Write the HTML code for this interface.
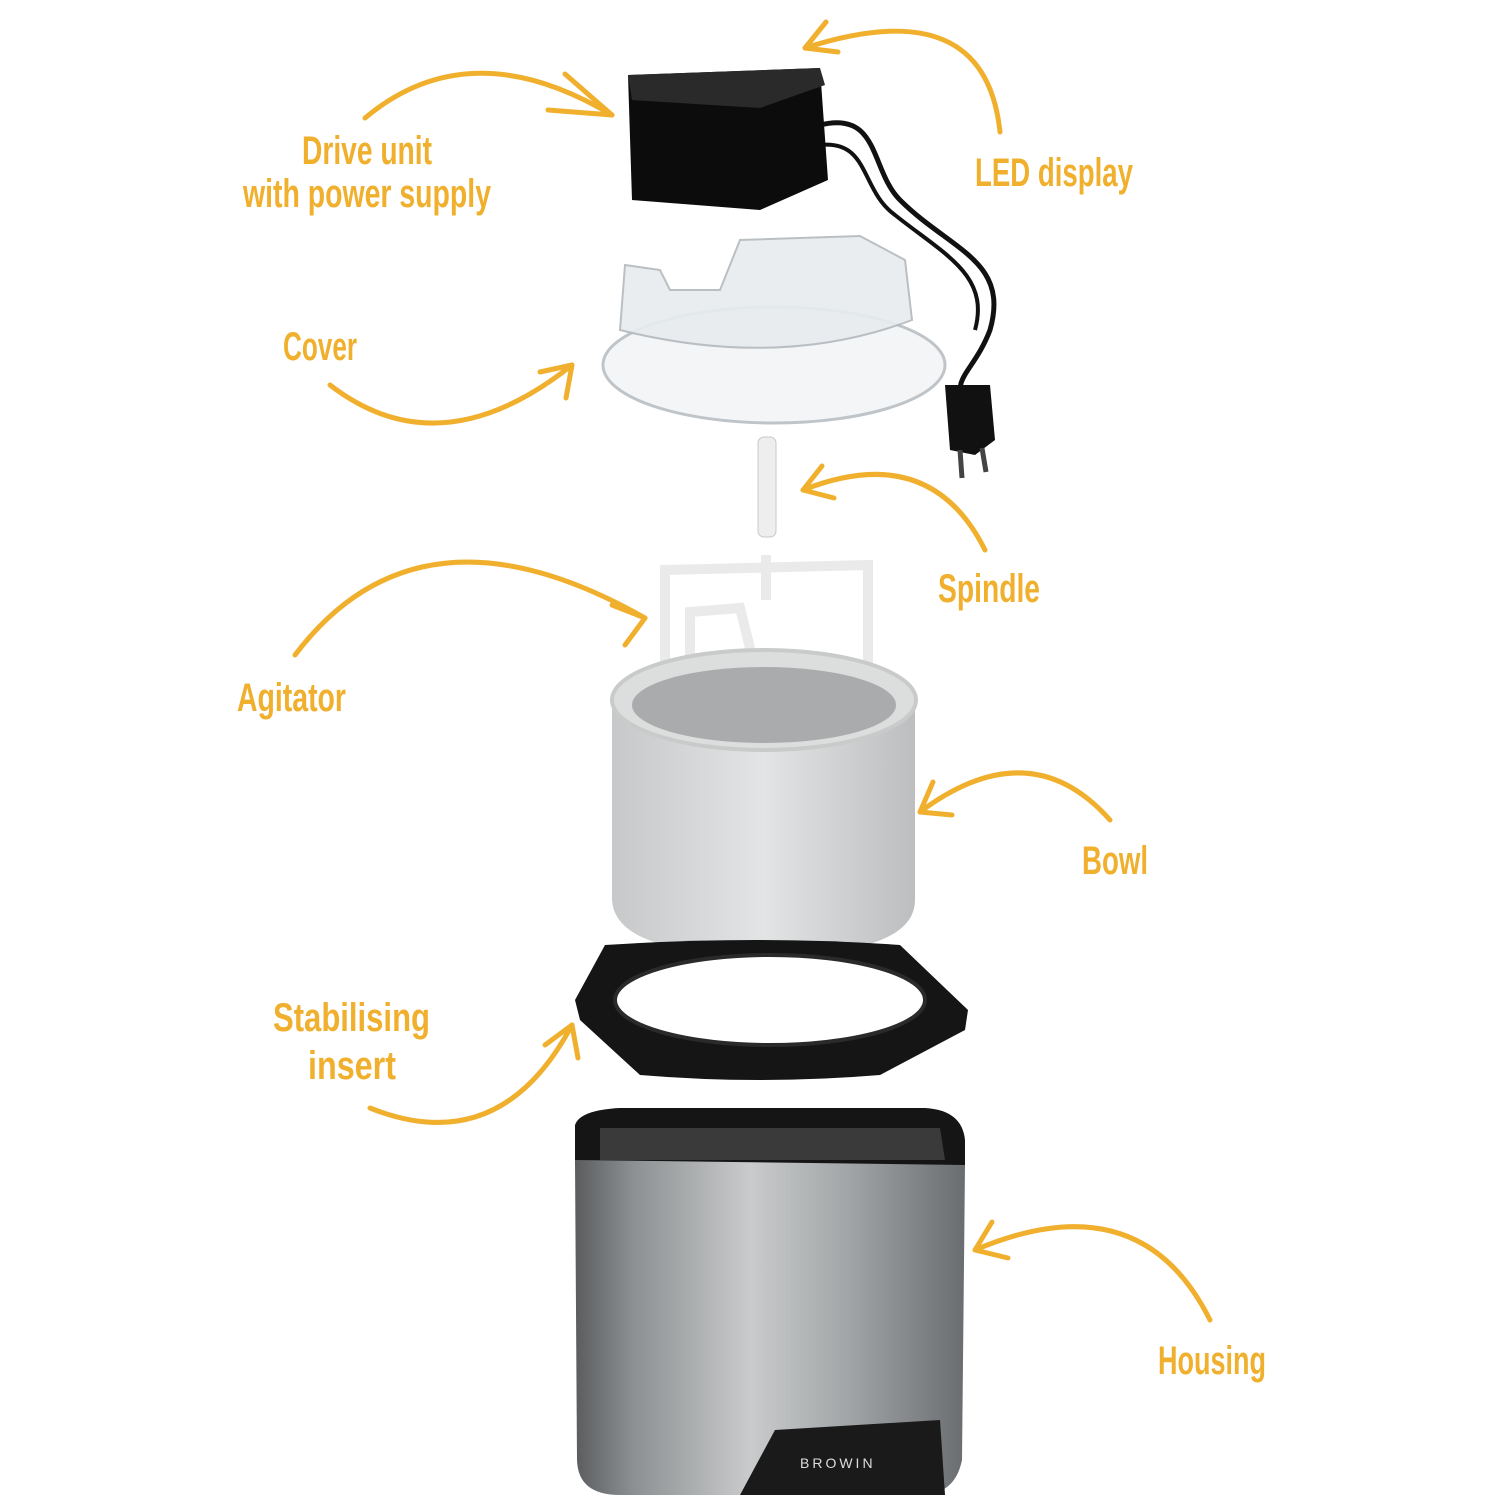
<!DOCTYPE html>
<html><head><meta charset="utf-8"><style>
html,body{margin:0;padding:0;background:#fff}
svg{display:block}
text.l{font-family:"Liberation Sans",sans-serif;font-weight:bold;fill:#F0B02E;font-size:40px}
</style></head><body>
<svg width="1500" height="1500" viewBox="0 0 1500 1500" xmlns="http://www.w3.org/2000/svg">
<defs>
<linearGradient id="steel" x1="0" x2="1">
<stop offset="0" stop-color="#5a5c5e"/><stop offset="0.15" stop-color="#8d9092"/><stop offset="0.45" stop-color="#c9cbcc"/><stop offset="0.7" stop-color="#a2a5a7"/><stop offset="1" stop-color="#6a6d70"/></linearGradient>
<linearGradient id="bowl" x1="0" x2="1">
<stop offset="0" stop-color="#c7c8c9"/><stop offset="0.5" stop-color="#e3e4e5"/><stop offset="1" stop-color="#bdbebf"/></linearGradient>
</defs>
<g fill="none" stroke="#F0B02E" stroke-width="5" stroke-linecap="round" stroke-linejoin="round">
<path d="M365 118 Q470 30 612 115"/><path d="M565 74 L612 115 L548 110"/>
<path d="M1000 132 Q985 -10 805 48"/><path d="M826 22 L805 48 L838 52"/>
<path d="M330 385 Q440 470 572 365"/><path d="M540 372 L572 365 L566 398"/>
<path d="M985 550 Q930 440 803 490"/><path d="M822 466 L803 490 L834 498"/>
<path d="M295 655 Q420 490 645 618"/><path d="M612 605 L645 618 L625 645"/>
<path d="M1110 820 Q1030 730 920 812"/><path d="M933 782 L920 812 L952 815"/>
<path d="M370 1108 Q500 1160 572 1025"/><path d="M545 1045 L572 1025 L578 1058"/>
<path d="M1210 1320 Q1140 1180 975 1250"/><path d="M992 1222 L975 1250 L1008 1258"/>
</g>
<path d="M820 125 C880 110 870 170 900 200 C950 250 1010 260 990 330 C975 370 950 380 965 400" fill="none" stroke="#111" stroke-width="5"/>
<path d="M820 145 C870 140 860 190 895 215 C945 255 990 275 975 330" fill="none" stroke="#111" stroke-width="4"/>
<path d="M945 385 L990 385 L995 440 L975 455 L950 450 Z" fill="#111"/>
<line x1="960" y1="450" x2="962" y2="478" stroke="#444" stroke-width="5"/><line x1="982" y1="448" x2="986" y2="472" stroke="#444" stroke-width="5"/>
<path d="M628 75 L820 68 L828 180 L760 210 L632 200 Z" fill="#0c0c0c"/>
<path d="M628 75 L820 68 L825 85 L760 108 L632 100 Z" fill="#2a2a2a"/>
<ellipse cx="774" cy="365" rx="171" ry="58" fill="#f3f5f7" stroke="#bfc4c8" stroke-width="3"/>
<path d="M620 330 L625 265 L660 270 L670 290 L720 290 L740 240 L860 236 L905 260 L912 320 Q780 370 620 330Z" fill="#e8ecef" stroke="#b3b9be" stroke-width="2" opacity="0.9"/>
<rect x="758" y="437" width="18" height="100" rx="6" fill="#eeeeee" stroke="#c8c8c8"/>
<g fill="none" stroke="#eaeaea" stroke-width="10">
<path d="M665 690 L665 570 L868 565 L868 680"/>
<path d="M690 690 L690 612 L740 608 L748 640 L760 690"/>
<line x1="766" y1="555" x2="766" y2="600"/>
</g>
<path d="M612 700 L612 900 Q615 955 765 955 Q915 955 915 900 L915 700 Z" fill="url(#bowl)"/>
<ellipse cx="764" cy="700" rx="152" ry="50" fill="#dcdddd" stroke="#c9caca" stroke-width="4"/>
<ellipse cx="764" cy="705" rx="132" ry="38" fill="#a9abad"/>
<path d="M575 1000 L605 945 Q760 935 900 945 L968 1010 L965 1030 L880 1075 Q760 1085 640 1075 L580 1020 Z" fill="#151515"/>
<ellipse cx="770" cy="1000" rx="155" ry="45" fill="#fff" stroke="#2a2a2a" stroke-width="4"/>
<path d="M575 1125 Q580 1110 620 1108 L925 1108 Q962 1110 965 1140 L965 1165 L575 1165 Z" fill="#151515"/>
<path d="M600 1128 L940 1128 L945 1160 L600 1160 Z" fill="#3a3a3a"/>
<path d="M575 1160 L965 1165 L962 1460 Q955 1495 920 1495 L620 1495 Q578 1495 577 1460 Z" fill="url(#steel)"/>
<path d="M740 1495 L775 1430 L940 1420 L945 1495 Z" fill="#1a1a1a"/>
<text x="800" y="1468" style="font-family:'Liberation Sans',sans-serif;font-size:14px;fill:#ddd;letter-spacing:3px">BROWIN</text>
<text class="l" x="302" y="164" textLength="130" lengthAdjust="spacingAndGlyphs">Drive unit</text>
<text class="l" x="243" y="207" textLength="248" lengthAdjust="spacingAndGlyphs">with power supply</text>
<text class="l" x="975" y="186" textLength="158" lengthAdjust="spacingAndGlyphs">LED display</text>
<text class="l" x="283" y="360" textLength="74" lengthAdjust="spacingAndGlyphs">Cover</text>
<text class="l" x="938" y="602" textLength="102" lengthAdjust="spacingAndGlyphs">Spindle</text>
<text class="l" x="237" y="711" textLength="109" lengthAdjust="spacingAndGlyphs">Agitator</text>
<text class="l" x="1082" y="874" textLength="66" lengthAdjust="spacingAndGlyphs">Bowl</text>
<text class="l" x="273" y="1031" textLength="157" lengthAdjust="spacingAndGlyphs">Stabilising</text>
<text class="l" x="308" y="1079" textLength="88" lengthAdjust="spacingAndGlyphs">insert</text>
<text class="l" x="1158" y="1374" textLength="108" lengthAdjust="spacingAndGlyphs">Housing</text>
</svg>
</body></html>
